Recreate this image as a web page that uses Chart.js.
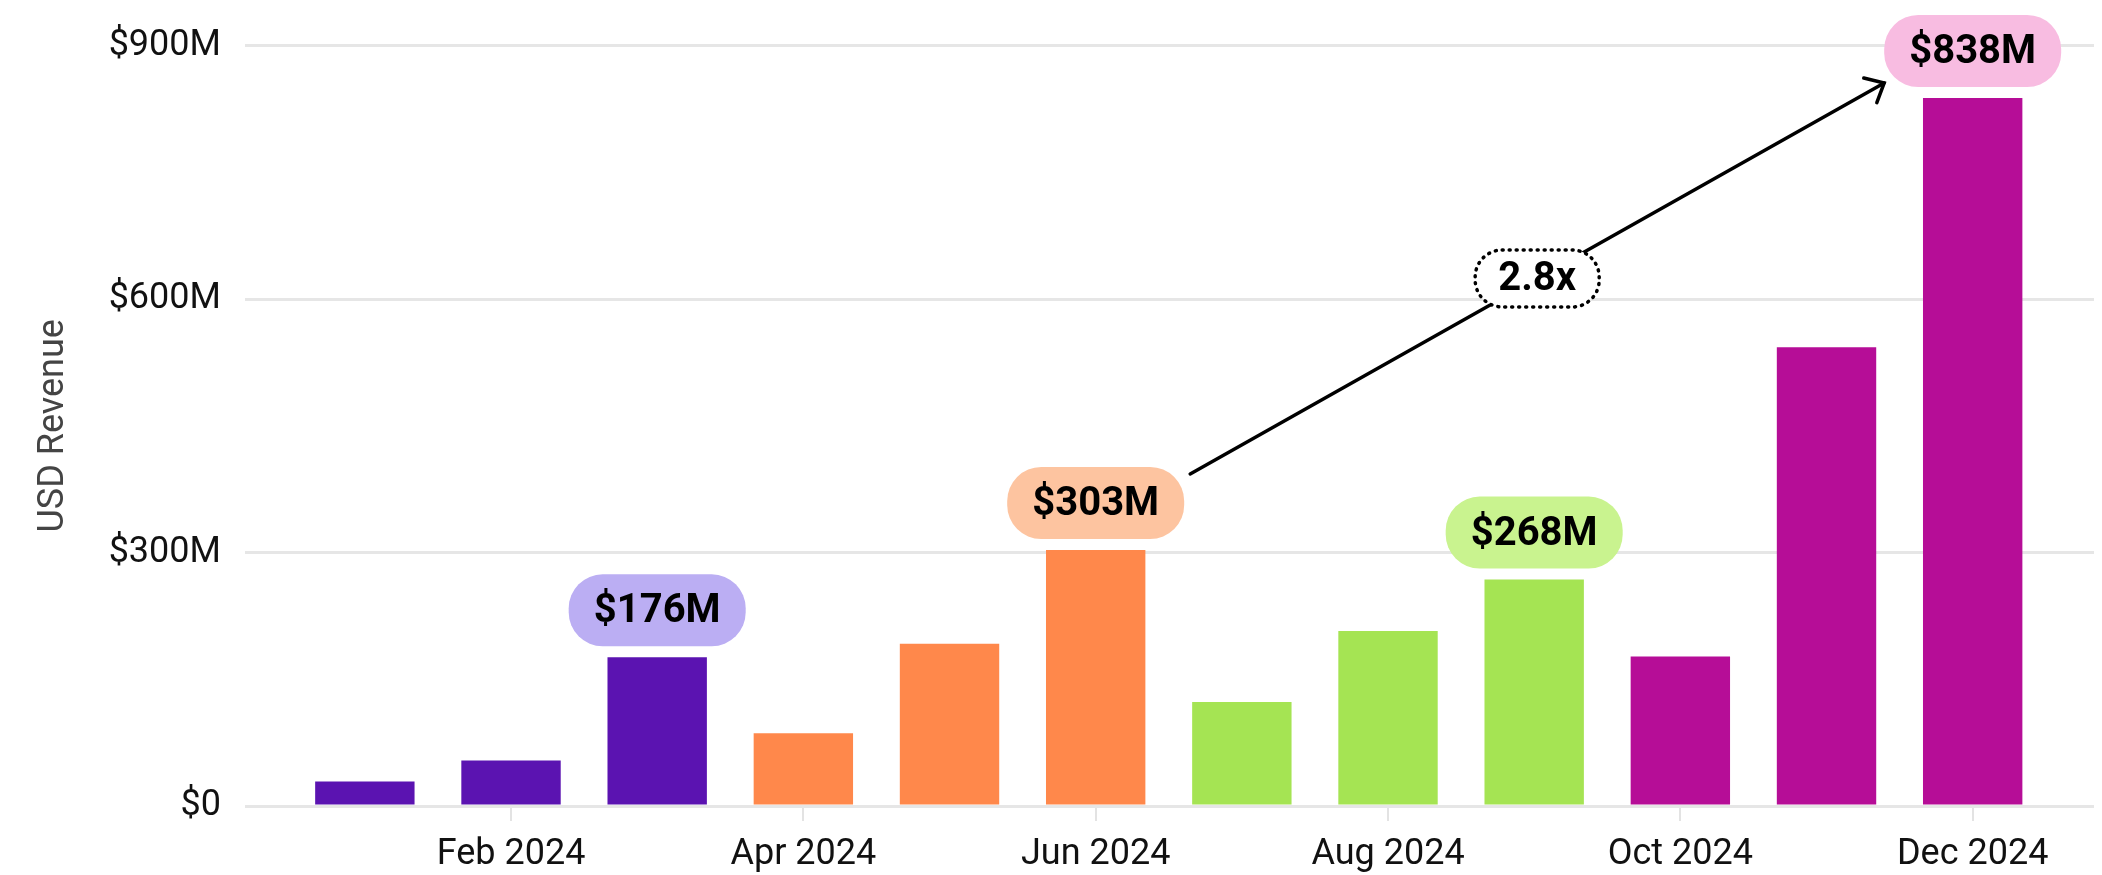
<!DOCTYPE html>
<html>
<head>
<meta charset="utf-8">
<script src="https://cdn.jsdelivr.net/npm/chart.js@4.4.1/dist/chart.umd.min.js"></script>
<style>
  html, body { margin: 0; padding: 0; background: #fff; }
  #wrap { width: 2102px; height: 875px; position: relative; }
</style>
</head>
<body>
<div id="wrap"><canvas id="revenueChart"></canvas></div>
<script>
// Monthly revenue, USD millions
var months = ['Jan 2024', 'Feb 2024', 'Mar 2024', 'Apr 2024', 'May 2024', 'Jun 2024',
              'Jul 2024', 'Aug 2024', 'Sep 2024', 'Oct 2024', 'Nov 2024', 'Dec 2024'];
var revenue = [29, 54, 176, 86, 192, 303, 123, 207, 268, 177, 543, 838];

// Which months get a tick label on the x axis
var xTickMonths = [1, 3, 5, 7, 9, 11];
var yTicks = [0, 300, 600, 900];

// Quarter-end callouts and the growth arrow
var calloutMonths = [2, 5, 8, 11];
var growthFrom = 5;
var growthTo = 11;
var growthLabel = '2.8x';

// Styles, one per quarter
var barColors = ['#5B13B1', '#FF884B', '#A5E453', '#B60D97'];
var pillColors = ['#BBAEF3', '#FDC4A0', '#C9F38F', '#F8BCE1'];

var FONT = 'Roboto, "Noto Sans", sans-serif';

/**
 * Draw the value pills, growth arrow and the dotted multiplier box
 */
var calloutPlugin = {
    id: 'callouts',
    afterDatasetsDraw: function(chart) {
        var ctx = chart.ctx;
        var meta = chart.getDatasetMeta(0);
        var pillW = 177, pillH = 72, gap = 11;
        var pills = {};

        ctx.save();
        calloutMonths.forEach(function(i) {
            var bar = meta.data[i];
            var box = {
                left: bar.x - pillW / 2,
                top: bar.y - gap - pillH,
                right: bar.x + pillW / 2,
                bottom: bar.y - gap
            };
            pills[i] = box;

            ctx.fillStyle = pillColors[Math.floor(i / 3)];
            ctx.beginPath();
            ctx.roundRect(box.left, box.top, pillW, pillH, 34);
            ctx.fill();

            ctx.fillStyle = '#000';
            ctx.font = 'bold 40px ' + FONT;
            ctx.textAlign = 'center';
            ctx.textBaseline = 'middle';
            ctx.fillText('$' + revenue[i] + 'M', bar.x, box.top + pillH / 2 + 2);
        });

        // Growth arrow between two callouts
        var a = pills[growthFrom], b = pills[growthTo];
        var x0 = a.right + 6, y0 = a.top + 7;
        var x1 = b.left, y1 = b.bottom - 4;
        var ang = Math.atan2(y1 - y0, x1 - x0);

        ctx.strokeStyle = '#000';
        ctx.lineWidth = 3.5;
        ctx.lineCap = 'round';
        ctx.beginPath();
        ctx.moveTo(x0, y0);
        ctx.lineTo(x1, y1);
        ctx.stroke();

        var head = 21;
        ctx.beginPath();
        ctx.moveTo(x1 + head * Math.cos(ang + Math.PI - 0.7), y1 + head * Math.sin(ang + Math.PI - 0.7));
        ctx.lineTo(x1, y1);
        ctx.lineTo(x1 + head * Math.cos(ang + Math.PI + 0.75), y1 + head * Math.sin(ang + Math.PI + 0.75));
        ctx.stroke();

        // Multiplier box in the middle of the arrow
        var mx = (x0 + x1) / 2, my = (y0 + y1) / 2;
        var bw = 124, bh = 57;
        ctx.fillStyle = '#fff';
        ctx.beginPath();
        ctx.roundRect(mx - bw / 2, my - bh / 2, bw, bh, 27);
        ctx.fill();
        ctx.setLineDash([1, 6]);
        ctx.lineWidth = 3.5;
        ctx.stroke();
        ctx.setLineDash([]);

        ctx.fillStyle = '#000';
        ctx.font = 'bold 40px ' + FONT;
        ctx.textAlign = 'center';
        ctx.textBaseline = 'middle';
        ctx.fillText(growthLabel, mx, my + 2);
        ctx.restore();
    }
};

var points = revenue.map(function(v, i) {
    return {x: i, y: v};
});

new Chart(document.getElementById('revenueChart'), {
    type: 'bar',
    data: {
        datasets: [{
            label: 'USD Revenue',
            data: points,
            backgroundColor: revenue.map(function(v, i) {
                return barColors[Math.floor(i / 3)];
            }),
            categoryPercentage: 1,
            barPercentage: 0.68
        }]
    },
    options: {
        responsive: true,
        maintainAspectRatio: false,
        animation: false,
        layout: {
            padding: {top: 44, right: 8, bottom: 0, left: 0}
        },
        plugins: {
            legend: {display: false},
            tooltip: {enabled: false}
        },
        scales: {
            x: {
                type: 'linear',
                min: -0.82,
                max: 11.83,
                offset: false,
                border: {display: false},
                grid: {
                    offset: false,
                    drawOnChartArea: false,
                    drawTicks: true,
                    tickLength: 15,
                    color: '#e3e3e3',
                    lineWidth: 2
                },
                afterBuildTicks: function(axis) {
                    axis.ticks = xTickMonths.map(function(v) {
                        return {value: v};
                    });
                },
                afterFit: function(axis) {
                    axis.height = 69;
                },
                ticks: {
                    autoSkip: false,
                    maxRotation: 0,
                    padding: 12,
                    color: '#111',
                    font: {family: FONT, size: 36},
                    callback: function(value) {
                        return months[value];
                    }
                }
            },
            y: {
                min: 0,
                max: 900,
                border: {display: false},
                grid: {
                    color: '#e6e6e6',
                    lineWidth: 3,
                    drawTicks: false
                },
                afterBuildTicks: function(axis) {
                    axis.ticks = yTicks.map(function(v) {
                        return {value: v};
                    });
                },
                afterFit: function(axis) {
                    axis.width = 245;
                },
                ticks: {
                    padding: 24,
                    color: '#111',
                    font: {family: FONT, size: 36},
                    callback: function(value) {
                        return '$' + value + (value === 0 ? '' : 'M');
                    }
                },
                title: {
                    display: true,
                    text: 'USD Revenue',
                    color: '#444',
                    padding: {top: 32, bottom: 0},
                    font: {family: FONT, size: 36}
                }
            }
        }
    },
    plugins: [calloutPlugin]
});
</script>
</body>
</html>
